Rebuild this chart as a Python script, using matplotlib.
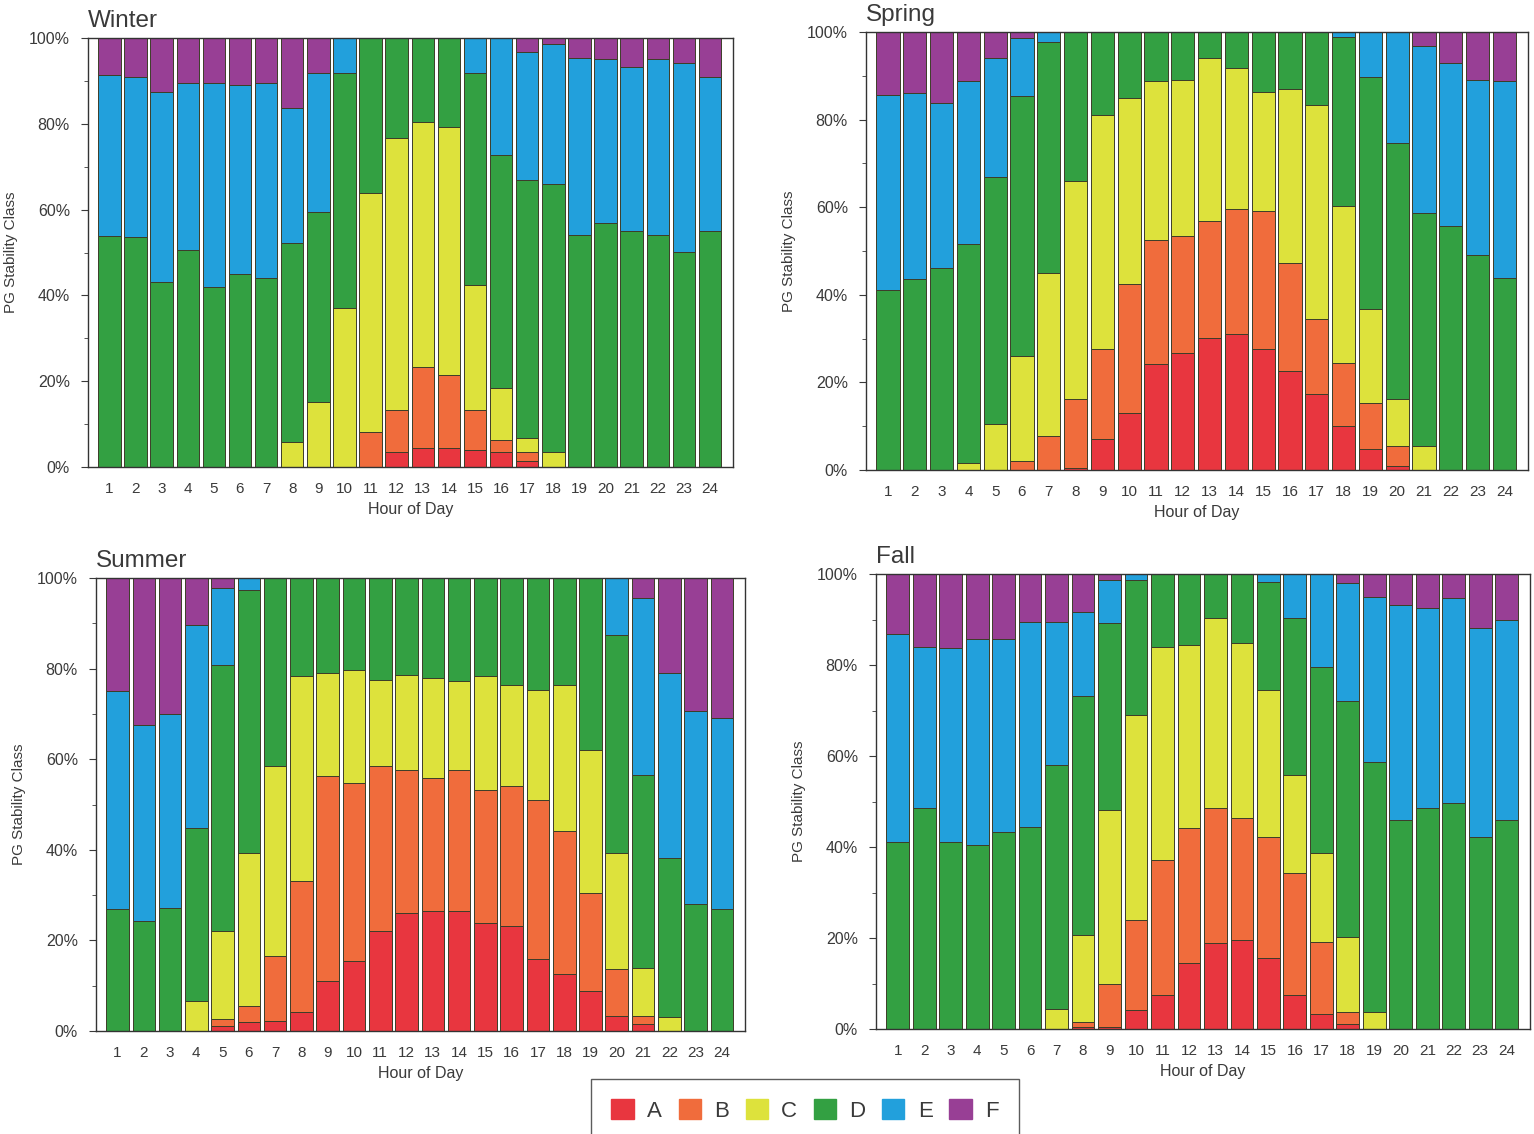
import numpy as np
import matplotlib
matplotlib.use('Agg')
import matplotlib.pyplot as plt
from matplotlib.patches import Patch
from matplotlib.ticker import MultipleLocator, FuncFormatter

plt.rcParams['font.family'] = ['Liberation Sans', 'DejaVu Sans']

# --- Data (percent of hours in each PG stability class) ---
HOURS = list(range(1, 25))
CLASSES = ['A', 'B', 'C', 'D', 'E', 'F']
COLORS = ['#e8363f', '#f06c3c', '#dde23c', '#33a042', '#22a0dc', '#983f95']

WINTER_A = [0, 0, 0, 0, 0, 0, 0, 0, 0, 0, 0, 3.6, 4.4, 4.5, 4, 3.6, 1.5, 0, 0, 0, 0, 0, 0, 0]
WINTER_B = [0, 0, 0, 0, 0, 0, 0, 0, 0, 0, 8.2, 9.7, 19, 16.9, 9.3, 2.7, 2.1, 0, 0, 0, 0, 0, 0, 0]
WINTER_C = [0, 0, 0, 0, 0, 0, 0, 5.9, 15.2, 37, 55.6, 63.3, 57.1, 57.9, 29.1, 12.1, 3.2, 3.6, 0, 0, 0, 0, 0, 0]
WINTER_D = [53.8, 53.5, 43.2, 50.6, 42, 45.1, 44, 46.2, 44.3, 54.8, 36.2, 23.4, 19.5, 20.7, 49.4, 54.3, 60.1, 62.4, 54, 56.8, 54.9, 54, 50.2, 54.9]
WINTER_E = [37.6, 37.5, 44.3, 38.8, 47.4, 43.9, 45.4, 31.5, 32.3, 8.2, 0, 0, 0, 0, 8.2, 27.3, 29.9, 32.5, 41.3, 38.2, 38.4, 41, 43.9, 36.1]
WINTER_F = [8.6, 9, 12.5, 10.6, 10.6, 11, 10.6, 16.4, 8.2, 0, 0, 0, 0, 0, 0, 0, 3.2, 1.5, 4.7, 5, 6.7, 5, 5.9, 9]

SPRING_A = [0, 0, 0, 0, 0, 0, 0, 0.5, 7.1, 13.1, 24.1, 26.8, 30.2, 31, 27.6, 22.6, 17.3, 10.1, 4.8, 1, 0, 0, 0, 0]
SPRING_B = [0, 0, 0, 0, 0, 2, 7.8, 15.7, 20.5, 29.3, 28.5, 26.6, 26.6, 28.5, 31.5, 24.7, 17.1, 14.4, 10.6, 4.5, 0, 0, 0, 0]
SPRING_C = [0, 0, 0, 1.5, 10.5, 24, 37.2, 49.7, 53.5, 42.5, 36.1, 35.7, 37.2, 32.2, 27.3, 39.8, 49, 35.7, 21.3, 10.7, 5.5, 0, 0, 0]
SPRING_D = [41.2, 43.5, 46.2, 50, 56.5, 59.3, 52.8, 34.1, 18.9, 15.1, 11.3, 10.9, 6, 8.3, 13.6, 12.9, 16.6, 38.7, 53.1, 58.4, 53.2, 55.7, 49.2, 43.9]
SPRING_E = [44.4, 42.5, 37.5, 37.2, 27, 13.3, 2.2, 0, 0, 0, 0, 0, 0, 0, 0, 0, 0, 1.1, 10.2, 25.4, 38, 37.2, 39.9, 44.8]
SPRING_F = [14.4, 14, 16.3, 11.3, 6, 1.4, 0, 0, 0, 0, 0, 0, 0, 0, 0, 0, 0, 0, 0, 0, 3.3, 7.1, 10.9, 11.3]

SUMMER_A = [0, 0, 0, 0, 1, 2, 2.3, 4.1, 11.1, 15.5, 22.1, 26.1, 26.5, 26.5, 23.9, 23.2, 15.9, 12.6, 8.9, 3.4, 1.5, 0, 0, 0]
SUMMER_B = [0, 0, 0, 0, 1.6, 3.6, 14.3, 29, 45.1, 39.3, 36.3, 31.6, 29.4, 31.2, 29.4, 30.8, 35.2, 31.5, 21.6, 10.3, 1.9, 0, 0, 0]
SUMMER_C = [0, 0, 0, 6.7, 19.5, 33.8, 41.8, 45.2, 22.8, 24.9, 19.1, 20.9, 22, 19.5, 25, 22.4, 24.2, 32.3, 31.6, 25.7, 10.6, 3, 0, 0]
SUMMER_D = [26.9, 24.3, 27.2, 38.2, 58.7, 58, 41.6, 21.7, 21, 20.3, 22.5, 21.4, 22.1, 22.8, 21.7, 23.6, 24.7, 23.6, 37.9, 48, 42.6, 35.3, 28, 26.9]
SUMMER_E = [48.1, 43.3, 42.8, 44.7, 16.9, 2.6, 0, 0, 0, 0, 0, 0, 0, 0, 0, 0, 0, 0, 0, 12.6, 38.9, 40.7, 42.6, 42.2]
SUMMER_F = [25, 32.4, 30, 10.4, 2.3, 0, 0, 0, 0, 0, 0, 0, 0, 0, 0, 0, 0, 0, 0, 0, 4.5, 21, 29.4, 30.9]

FALL_A = [0, 0, 0, 0, 0, 0, 0, 0.5, 0.5, 4.2, 7.5, 14.4, 18.8, 19.6, 15.5, 7.5, 3.4, 1, 0, 0, 0, 0, 0, 0]
FALL_B = [0, 0, 0, 0, 0, 0, 0, 1.1, 9.5, 19.8, 29.6, 29.7, 29.7, 26.7, 26.8, 26.7, 15.8, 2.8, 0, 0, 0, 0, 0, 0]
FALL_C = [0, 0, 0, 0, 0, 0, 4.5, 19.1, 38.1, 45, 46.9, 40.3, 41.9, 38.5, 32.2, 21.6, 19.4, 16.5, 3.8, 0, 0, 0, 0, 0]
FALL_D = [41.2, 48.6, 41.2, 40.4, 43.4, 44.5, 53.5, 52.4, 41.1, 29.7, 16, 15.6, 9.6, 15.2, 23.8, 34.6, 40.9, 51.8, 54.9, 45.9, 48.5, 49.6, 42.3, 45.9]
FALL_E = [45.6, 35.4, 42.5, 45.3, 42.3, 45, 31.5, 18.6, 9.5, 1.3, 0, 0, 0, 0, 1.7, 9.6, 20.5, 25.9, 36.3, 47.3, 44, 45.1, 45.8, 44]
FALL_F = [13.2, 16, 16.3, 14.3, 14.3, 10.5, 10.5, 8.3, 1.3, 0, 0, 0, 0, 0, 0, 0, 0, 2, 5, 6.8, 7.5, 5.3, 11.9, 10.1]

SEASONS = [
    ('Winter', [WINTER_A, WINTER_B, WINTER_C, WINTER_D, WINTER_E, WINTER_F]),
    ('Spring', [SPRING_A, SPRING_B, SPRING_C, SPRING_D, SPRING_E, SPRING_F]),
    ('Summer', [SUMMER_A, SUMMER_B, SUMMER_C, SUMMER_D, SUMMER_E, SUMMER_F]),
    ('Fall', [FALL_A, FALL_B, FALL_C, FALL_D, FALL_E, FALL_F]),
]

# --- Layout (pixel boxes: left, top, right, bottom) ---
W, H = 1534, 1134
BOXES = [(88, 38, 733, 467), (866, 32, 1528, 470), (96, 578, 745, 1031), (876, 574, 1530, 1029)]
TEXT_COLOR = '#3a3a3a'

fig = plt.figure(figsize=(W / 100, H / 100), dpi=100)

for (name, series), (l, t, r, b) in zip(SEASONS, BOXES):
    ax = fig.add_axes([l / W, 1 - b / H, (r - l) / W, (b - t) / H])
    bottom = np.zeros(len(HOURS))
    for vals, col in zip(series, COLORS):
        vals = np.array(vals, dtype=float)
        ax.bar(HOURS, vals, bottom=bottom, width=0.86, color=col,
               edgecolor='#3d3d28', linewidth=0.7)
        bottom += vals

    ax.set_xlim(0.18, 24.88)
    ax.set_ylim(0, 100)
    ax.set_xticks(HOURS)
    ax.yaxis.set_major_locator(MultipleLocator(20))
    ax.yaxis.set_minor_locator(MultipleLocator(10))
    ax.yaxis.set_major_formatter(FuncFormatter(lambda v, p: f'{int(v)}%'))
    ax.tick_params(axis='x', length=0, pad=11, labelsize=11, colors=TEXT_COLOR)
    ax.tick_params(axis='y', which='major', length=5, pad=8, labelsize=11.5, colors=TEXT_COLOR)
    ax.tick_params(axis='y', which='minor', length=3, colors=TEXT_COLOR)
    for s in ax.spines.values():
        s.set_color('#333333')
        s.set_linewidth(1.0)
    ax.set_xlabel('Hour of Day', fontsize=11.5, color=TEXT_COLOR, labelpad=4)
    ax.set_ylabel('PG Stability Class', fontsize=11, color=TEXT_COLOR, labelpad=8)
    ax.set_title(name, loc='left', fontsize=17.5, color=TEXT_COLOR, pad=8)

handles = [Patch(facecolor=c, edgecolor=c) for c in COLORS]
leg = fig.legend(handles, CLASSES, loc='upper center', bbox_to_anchor=(805 / W, 1 - 1068 / H),
                 ncol=6, fontsize=16, frameon=True, fancybox=False, edgecolor='#333333',
                 handlelength=1.0, handleheight=1.0, handletextpad=0.6, columnspacing=0.75,
                 borderpad=0.9)
for txt in leg.get_texts():
    txt.set_color(TEXT_COLOR)

fig.savefig('out.png', dpi=100, facecolor='white')
